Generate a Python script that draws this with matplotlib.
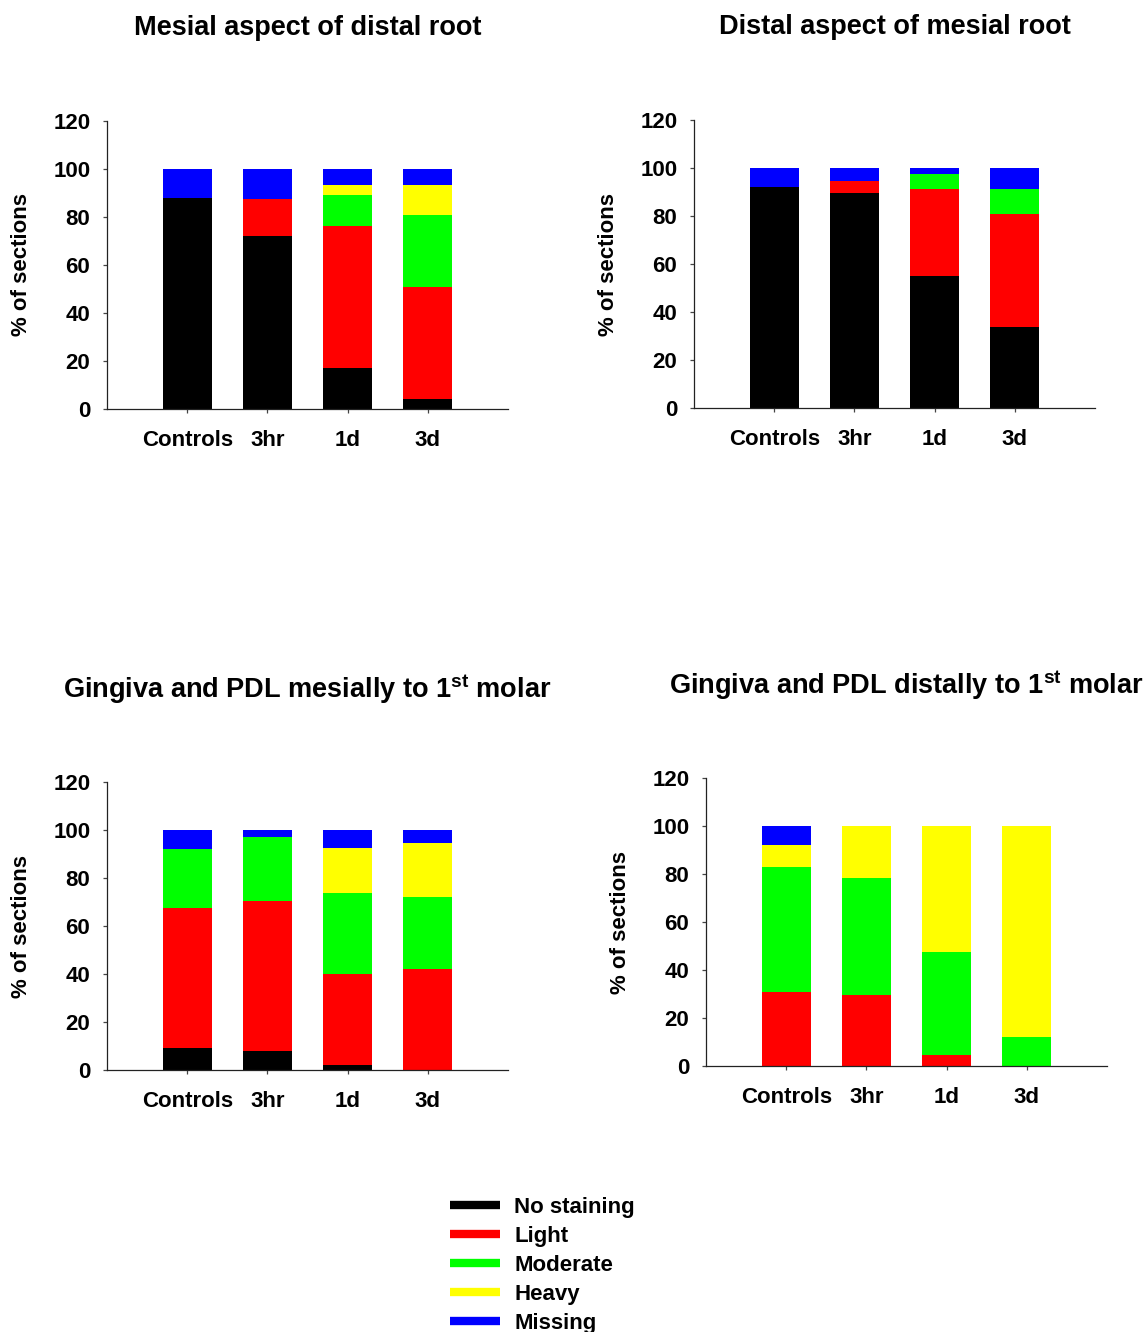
import matplotlib
matplotlib.use("Agg")
import matplotlib.pyplot as plt
from matplotlib.lines import Line2D

# ------------------------------------------------------------
# data (% of sections per staining grade)
# ------------------------------------------------------------
GROUPS = ["Controls", "3hr", "1d", "3d"]
GRADES = ["No staining", "Light", "Moderate", "Heavy", "Missing"]
COLORS = ["#000000", "#FF0000", "#00FF00", "#FFFF00", "#0000FF"]

TITLES = [
    "Mesial aspect of distal root",
    "Distal aspect of mesial root",
    r"Gingiva and PDL mesially to 1$^{\mathbf{st}}$ molar",
    r"Gingiva and PDL distally to 1$^{\mathbf{st}}$ molar",
]

# rows: No staining, Light, Moderate, Heavy, Missing
distal_root = [
    [88.0, 72.0, 17.2, 4.3],
    [0.0, 15.5, 59.1, 46.6],
    [0.0, 0.0, 12.9, 30.0],
    [0.0, 0.0, 4.1, 12.4],
    [12.0, 12.5, 6.7, 6.7],
]
mesial_root = [
    [92.1, 89.6, 55.0, 33.75],
    [0.0, 5.0, 36.25, 47.25],
    [0.0, 0.0, 6.25, 10.25],
    [0.0, 0.0, 0.0, 0.0],
    [7.9, 5.4, 2.5, 8.75],
]
gingiva_mesial = [
    [9.0, 7.9, 1.9, 0.0],
    [58.5, 62.5, 38.0, 42.0],
    [24.6, 26.7, 33.8, 30.0],
    [0.0, 0.0, 18.8, 22.6],
    [7.9, 2.9, 7.5, 5.4],
]
gingiva_distal = [
    [0.0, 0.0, 0.0, 0.0],
    [30.7, 29.5, 4.6, 0.0],
    [52.2, 48.8, 42.8, 12.0],
    [9.2, 21.7, 52.6, 88.0],
    [7.9, 0.0, 0.0, 0.0],
]

PANELS = [distal_root, mesial_root, gingiva_mesial, gingiva_distal]

# ------------------------------------------------------------
# style
# ------------------------------------------------------------
plt.rcParams.update({
    "font.family": ["Liberation Sans", "DejaVu Sans"],
    "font.weight": "bold",
    "font.size": 16,
    "mathtext.fontset": "custom",
    "mathtext.rm": "Liberation Sans:bold",
    "mathtext.bf": "Liberation Sans:bold",
    "axes.linewidth": 0.9,
    "axes.edgecolor": "#222222",
})

W, H = 1146, 1332
fig = plt.figure(figsize=(W / 100, H / 100), dpi=100)

# axes boxes in pixels: left, top, right, bottom
boxes = [
    (107, 121, 508, 409),
    (694, 120, 1095, 408),
    (107, 782, 508, 1070),
    (706, 778, 1107, 1066),
]

for data, title, (l, t, r, b) in zip(PANELS, TITLES, boxes):
    ax = fig.add_axes([l / W, 1 - b / H, (r - l) / W, (b - t) / H])
    x = list(range(1, len(GROUPS) + 1))
    bottom = [0.0] * len(GROUPS)
    for vals, col in zip(data, COLORS):
        ax.bar(x, vals, width=0.61, bottom=bottom, color=col, linewidth=0)
        bottom = [bb + v for bb, v in zip(bottom, vals)]

    ax.set_xlim(0, 5)
    ax.set_ylim(0, 120)
    ax.set_yticks(range(0, 121, 20))
    ax.set_xticks(x)
    ax.set_xticklabels(GROUPS)
    ax.tick_params(axis="both", direction="out", length=3, width=0.9,
                   color="#444444", labelsize=16)
    ax.tick_params(axis="y", pad=9)
    ax.tick_params(axis="x", pad=12)
    for s in ("top", "right"):
        ax.spines[s].set_visible(False)

    ax.set_ylabel("% of sections", fontsize=16, fontweight="bold")
    ax.yaxis.set_label_coords(-0.187, 0.5)

    ax.text(0.5, 1 + 93 / 288, title, transform=ax.transAxes,
            ha="center", va="center", fontsize=19.5, fontweight="bold")

handles = [Line2D([0], [0], color=c, lw=6, solid_capstyle="butt")
           for c in COLORS]
fig.legend(handles, GRADES, loc="upper left",
           bbox_to_anchor=(450 / W, 1 - 1197 / H),
           frameon=False, borderpad=0, borderaxespad=0,
           handlelength=2.25, handletextpad=0.63, labelspacing=0.36,
           prop={"size": 16, "weight": "bold"})

fig.savefig("out.png", dpi=100)
